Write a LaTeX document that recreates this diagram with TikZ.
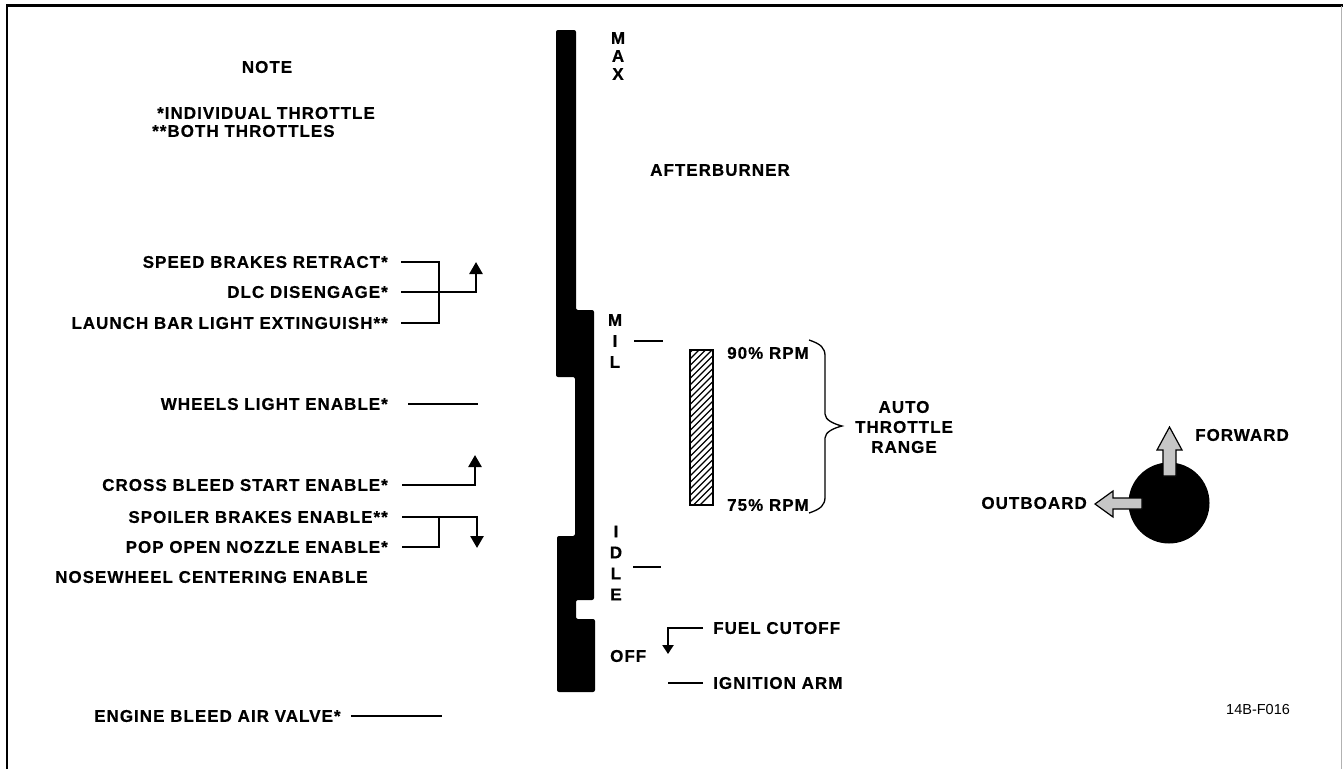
\documentclass[tikz,border=0pt]{standalone}
\usepackage{fontspec}
\setmainfont{Liberation Sans}[LetterSpace=6, BoldFeatures={FakeBold=0.5}]
\newfontfamily\plainfont{Liberation Sans}
\usetikzlibrary{arrows.meta}
\begin{document}
\begin{tikzpicture}[x=1pt,y=-1pt,
  lbl/.style={font=\fontsize{17}{20}\selectfont\bfseries, inner sep=0pt},
  ln/.style={line width=2.6pt},
  tip/.style={-{Triangle[width=13pt,length=12pt]}},
  tick/.style={line width=2.2pt},
  bigarrow/.style={fill=gray!45, draw=black, line width=1.2pt, line join=miter}
]
\useasboundingbox (0,0) rectangle (1343,769);
% frame
\draw[line width=2.6pt] (7,769) -- (7,5.5) -- (1343,5.5);
\draw[gray!60, line width=1pt] (1341.5,5.5) -- (1341.5,769);

% note
\node[lbl] (note) at (267,67) {NOTE};
\node[lbl,anchor=west] (ind) at (157,113) {*INDIVIDUAL THROTTLE};
\node[lbl,anchor=west] (both) at (152,131) {**BOTH THROTTLES};

% left labels
\node[lbl,anchor=east] (sbr) at (388,262) {SPEED BRAKES RETRACT*};
\node[lbl,anchor=east] (dlc) at (388,292) {DLC DISENGAGE*};
\node[lbl,anchor=east] (lbe) at (388,323) {LAUNCH BAR LIGHT EXTINGUISH**};
\node[lbl,anchor=east] (wle) at (388,404) {WHEELS LIGHT ENABLE*};
\node[lbl,anchor=east] (cbs) at (388,485) {CROSS BLEED START ENABLE*};
\node[lbl,anchor=east] (spb) at (388,517) {SPOILER BRAKES ENABLE**};
\node[lbl,anchor=east] (pon) at (388,547) {POP OPEN NOZZLE ENABLE*};
\node[lbl,anchor=west] (nose) at (55,577) {NOSEWHEEL CENTERING ENABLE};
\node[lbl,anchor=west] (ebav) at (94,716) {ENGINE BLEED AIR VALVE*};

% connectors left
\coordinate (t1) at (476,262);
\coordinate (t2) at (475,455);
\coordinate (t3) at (477,548);
\coordinate (wend) at (478,404);
\coordinate (eend) at (442,716);
\draw[ln] ([xshift=13pt]sbr.east) -| ([xshift=51pt]lbe.east) -- ([xshift=13pt]lbe.east);
\draw[ln,tip] ([xshift=13pt]dlc.east) -| (t1);
\draw[ln] ([xshift=20pt]wle.east) -- (wend);
\draw[ln,tip] ([xshift=14pt]cbs.east) -| (t2);
\draw[ln,tip] ([xshift=14pt]spb.east) -| (t3);
\draw[ln] ([xshift=14pt]pon.east) -| ([xshift=51pt]spb.east);
\draw[ln] ([xshift=10pt]ebav.east) -- (eend);

% throttle bar
\fill[rounded corners=2pt] (556,30) -- (576,30) -- (576,310) -- (594,310) -- (594,600)
  -- (576,600) -- (576,619) -- (595,619) -- (595,692) -- (557,692) -- (557,536)
  -- (575,536) -- (575,377) -- (556,377) -- cycle;

\node[lbl,align=center,font=\fontsize{17}{18}\selectfont\bfseries] (max) at (618,56) {M\\A\\X};
\node[lbl,align=center,font=\fontsize{17}{21}\selectfont\bfseries] (mil) at (615,341) {M\\I\\L};
\node[lbl,align=center,font=\fontsize{17}{21}\selectfont\bfseries] (idle) at (616,563) {I\\D\\L\\E};
\node[lbl,anchor=west] (off) at (610,656) {OFF};
\node[lbl,anchor=west] (ab) at (650,170) {AFTERBURNER};

\draw[tick] ([xshift=12pt]mil.east) -- ++(29,0);
\draw[tick] ([xshift=11pt,yshift=-4pt]idle.east) -- ++(28,0);

% fuel / ignition
\node[lbl,anchor=west] (fuel) at (713,628) {FUEL CUTOFF};
\node[lbl,anchor=west] (ign) at (713,683) {IGNITION ARM};
\coordinate (ftip) at (668,654);
\draw[line width=2.2pt,-{Triangle[width=11pt,length=9pt]}] ([xshift=-10pt]fuel.west) -| (ftip);
\draw[tick] ([xshift=-10pt]ign.west) -- ++(-35,0);

% auto throttle range
\begin{scope}
  \clip (690,350) rectangle (713,505);
  \foreach \i in {0,...,32} \draw[line width=1.3pt] (680,525-6.5*\i) -- ++(45,-45);
\end{scope}
\draw[line width=1.6pt] (690,350) rectangle (713,505);
\node[lbl,anchor=west] (r90) at (727,353) {90\% RPM};
\node[lbl,anchor=west] (r75) at (727,505) {75\% RPM};
\draw[line width=1.3pt] (809,340) .. controls (821,344) and (825,348) .. (825,356) -- (825,414)
  .. controls (825,420) and (834,424) .. (842,426) .. controls (834,428) and (825,432) .. (825,438)
  -- (825,497) .. controls (825,505) and (821,509) .. (809,513);
\node[lbl,align=center] (atr) at (904,427) {AUTO\\THROTTLE\\RANGE};

% direction indicator
\fill (1169,503) circle (40.5);
\draw[bigarrow] (1163,476) -- (1163,450) -- (1157,450) -- (1169.5,427) -- (1182,450) -- (1176,450) -- (1176,476) -- cycle;
\draw[bigarrow] (1142,498) -- (1113,498) -- (1113,491) -- (1095,504) -- (1113,517) -- (1113,509) -- (1142,509) -- cycle;
\node[lbl,anchor=west] (fwd) at (1195,435) {FORWARD};
\node[lbl,anchor=east] (outb) at (1087,503) {OUTBOARD};

\node[font=\plainfont\fontsize{14.5}{16}\selectfont, inner sep=0pt, anchor=west] (fig) at (1226,709) {14B-F016};
\end{tikzpicture}
\end{document}
